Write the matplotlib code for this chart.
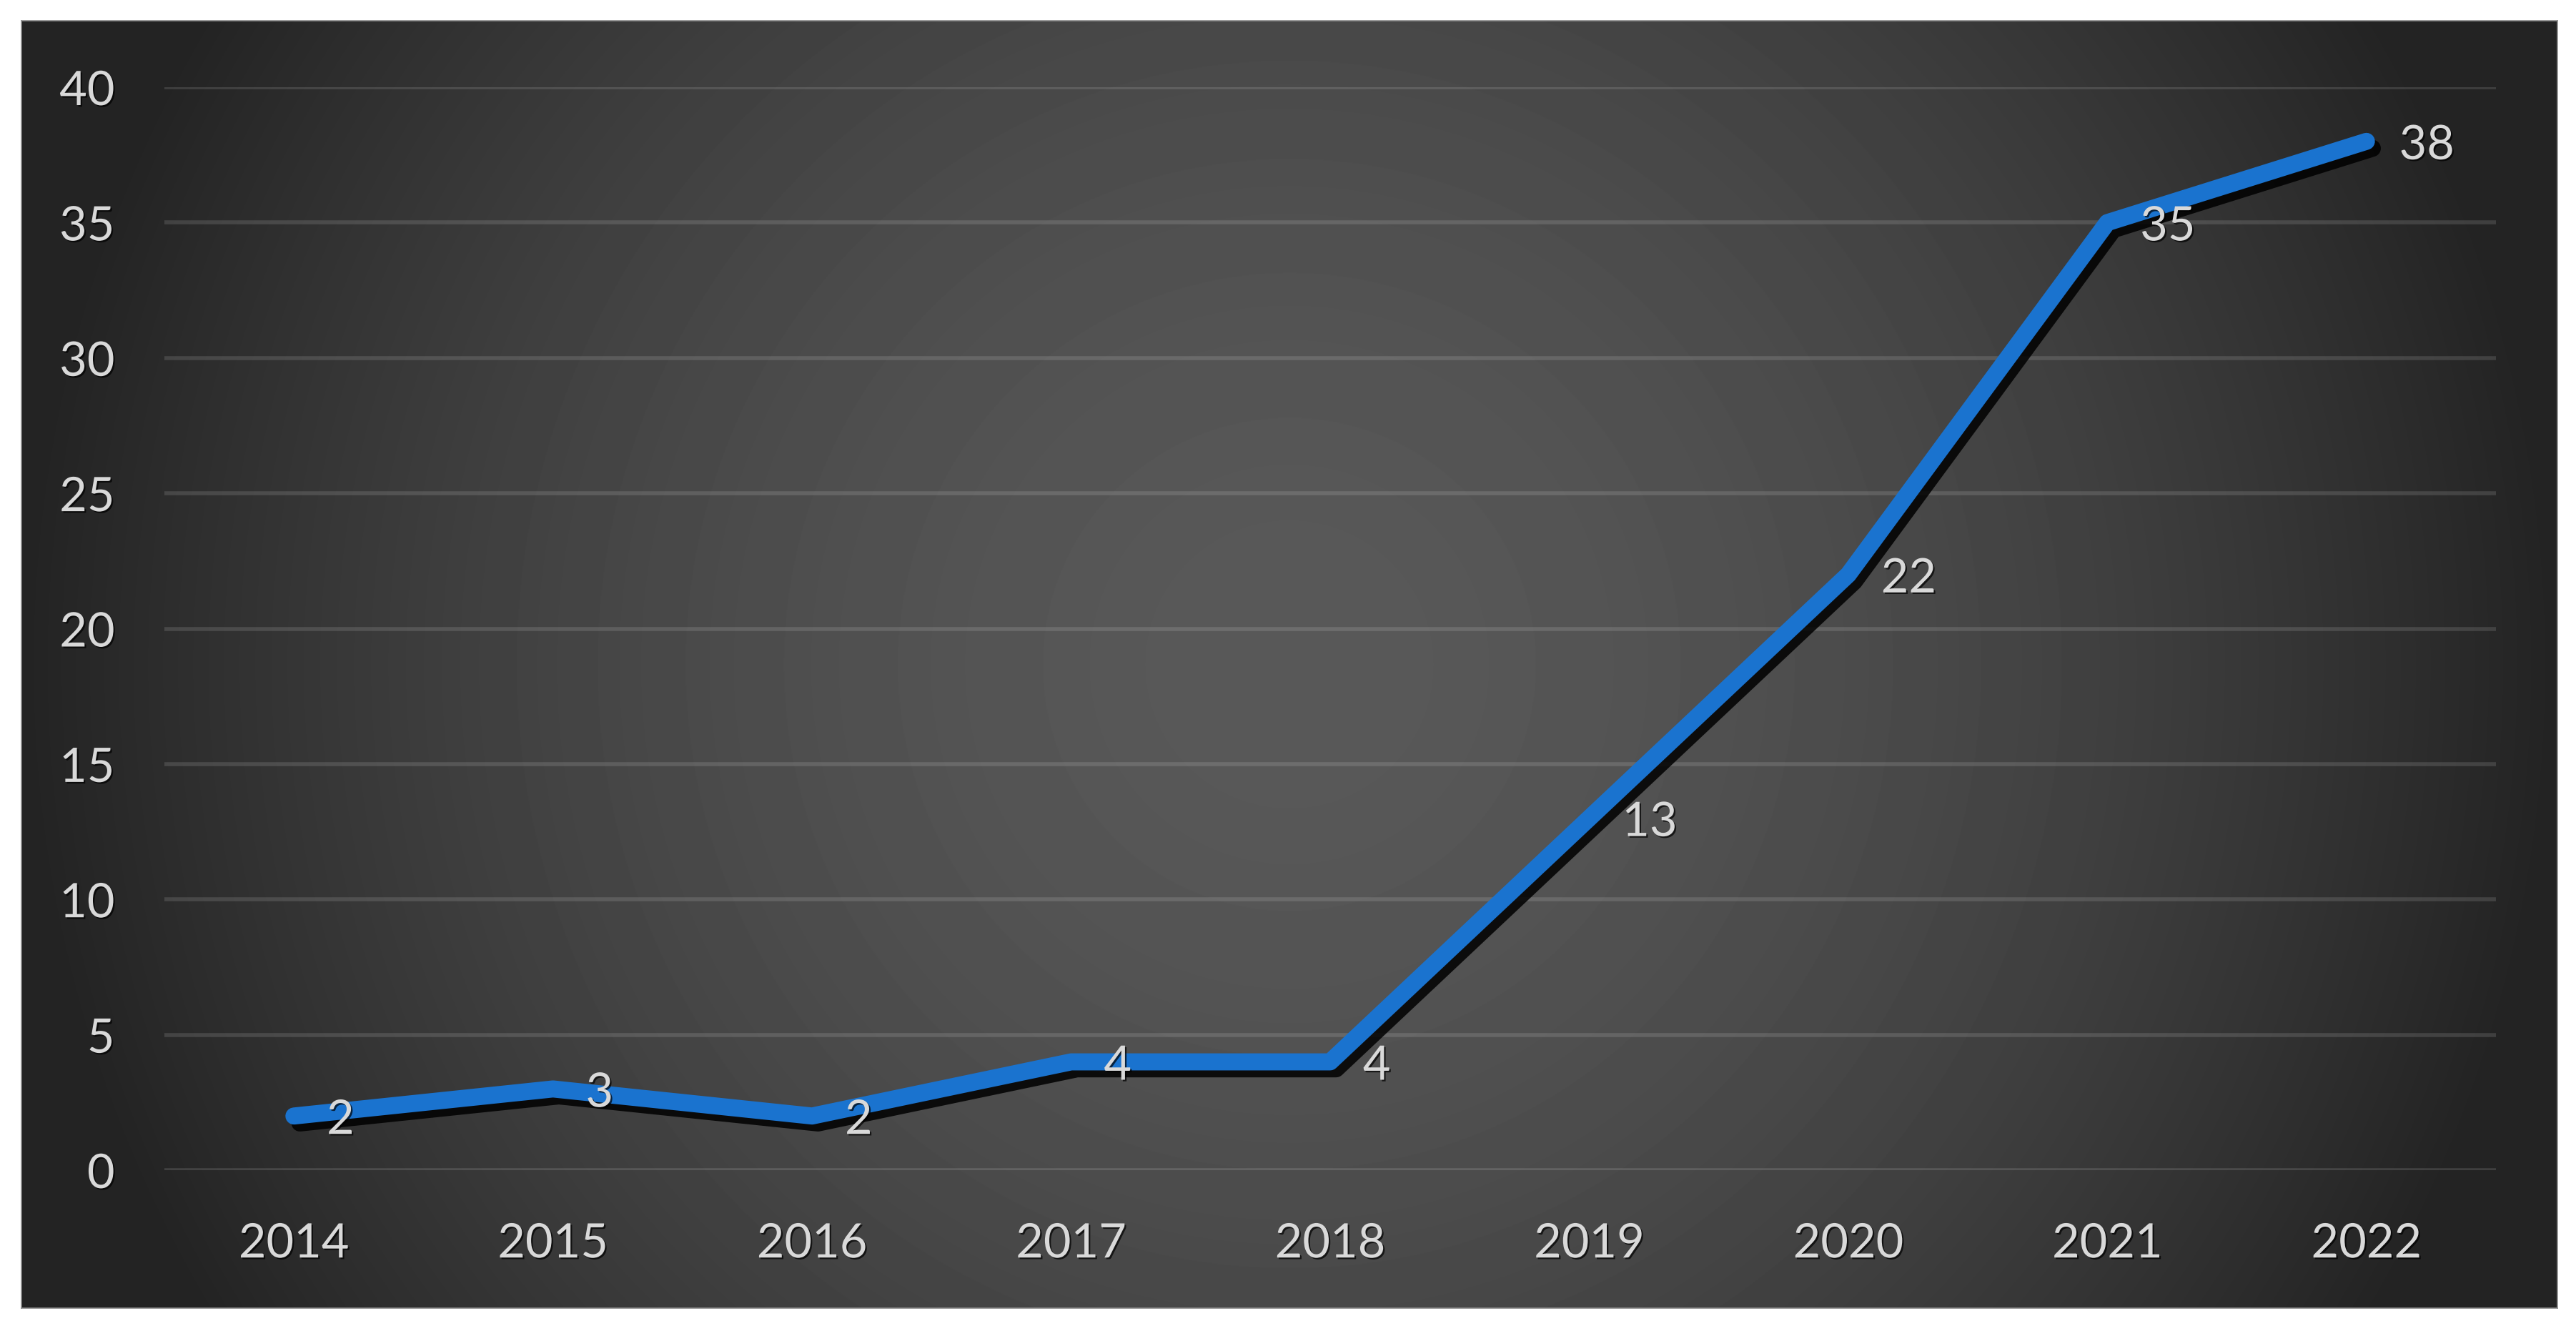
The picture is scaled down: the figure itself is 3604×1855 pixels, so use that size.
import matplotlib
matplotlib.use("Agg")
import matplotlib.pyplot as plt
import matplotlib.patheffects as pe
import numpy as np

# ── Data ─────────────────────────────────────────────────────────────
years = ["2014", "2015", "2016", "2017", "2018", "2019", "2020", "2021", "2022"]
counts = [2, 3, 2, 4, 4, 13, 22, 35, 38]
y_ticks = [0, 5, 10, 15, 20, 25, 30, 35, 40]

# ── Style ────────────────────────────────────────────────────────────
BLUE = "#1A73CF"
TEXT = "#D9D9D9"
FONT = ["Lato", "DejaVu Sans"]

plt.rcParams["font.family"] = FONT

W, H = 3605, 1855
DPI = 200
fig = plt.figure(figsize=(W / DPI, H / DPI), dpi=DPI, facecolor="white")

# dark radial gradient panel
bx0, bx1, by0, by1 = 30, 3578, 29, 1830
bg = fig.add_axes([bx0 / W, 1 - by1 / H, (bx1 - bx0) / W, (by1 - by0) / H])
gx, gy = np.meshgrid(np.arange(bx0, bx1), np.arange(by0, by1))
cx, cy = (bx0 + bx1) / 2, (by0 + by1) / 2
r = np.clip(np.hypot(gx - cx, gy - cy) / (bx1 - cx), 0, 1)
shade = (89 - 54 * r ** 1.7) / 255
bg.imshow(shade, cmap="gray", vmin=0, vmax=1, aspect="auto",
          interpolation="bilinear")
bg.set_xticks([])
bg.set_yticks([])
for s in bg.spines.values():
    s.set_color("#8c8c8c")
    s.set_linewidth(0.6)
bg.set_zorder(0)

# plot area
ax = fig.add_axes([230 / W, 1 - 1637 / H, (3492 - 230) / W, (1637 - 122) / H])
ax.set_zorder(1)
ax.patch.set_visible(False)

x = np.arange(len(years))
ax.plot(x, counts, color=BLUE, lw=8.6, solid_capstyle="round",
        solid_joinstyle="round", zorder=3,
        path_effects=[pe.SimpleLineShadow(offset=(3, -3.5), shadow_color="black", alpha=0.85),
                      pe.Normal()])

txt_fx = [pe.withSimplePatchShadow(offset=(0.8, -0.8), shadow_rgbFace="black", alpha=0.7)]
for xi, v in zip(x, counts):
    ax.annotate(str(v), (xi, v), xytext=(16.5, 0), textcoords="offset points",
                ha="left", va="center_baseline", color=TEXT, fontsize=24,
                zorder=4, path_effects=txt_fx)

ax.set_xlim(-0.5, len(years) - 0.5)
ax.set_ylim(0, 40)
ax.set_xticks(x)
ax.set_xticklabels(years)
ax.set_yticks(y_ticks)
ax.yaxis.grid(True, color="white", alpha=0.13, lw=2.0)
ax.set_axisbelow(True)
for s in ax.spines.values():
    s.set_visible(False)
ax.tick_params(axis="x", length=0, pad=26, labelsize=24, labelcolor=TEXT)
ax.tick_params(axis="y", length=0, pad=25, labelsize=24, labelcolor=TEXT)
for lab in ax.get_xticklabels() + ax.get_yticklabels():
    lab.set_path_effects(txt_fx)

fig.savefig("out.png", dpi=DPI)
plt.close(fig)
